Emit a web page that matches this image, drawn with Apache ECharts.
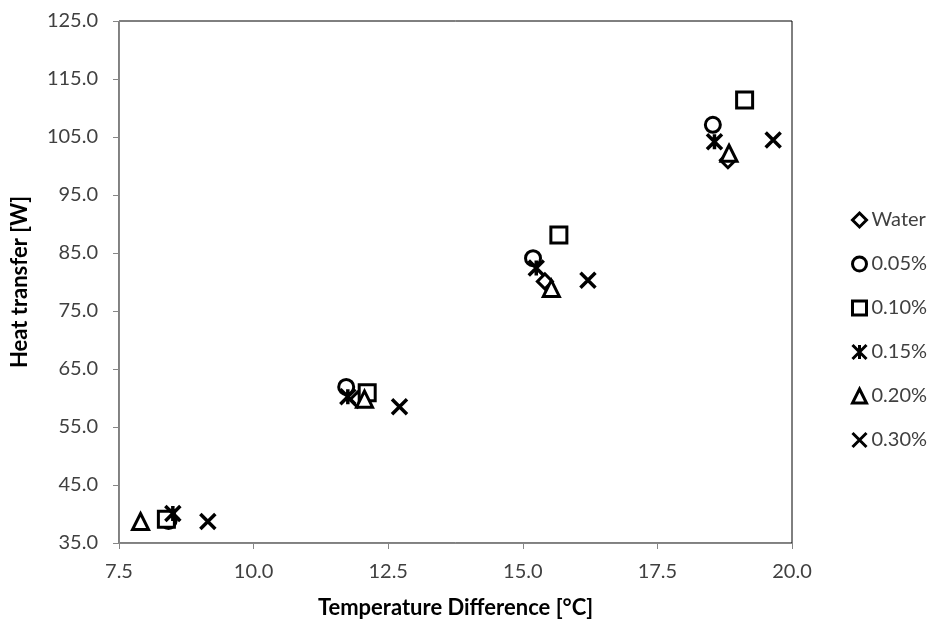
<!DOCTYPE html>
<html>
<head>
<meta charset="utf-8">
<script src="https://cdn.jsdelivr.net/npm/echarts@6/dist/echarts.min.js"></script>
<style>
html,body{margin:0;padding:0;background:#fff;}
#chart{width:935px;height:624px;}
</style>
</head>
<body>
<div id="chart"></div>
<script>
// Series names (legend order)
var seriesNames = ['Water', '0.05%', '0.10%', '0.15%', '0.20%', '0.30%'];

// Temperature difference [°C] values per series
var waterX = [8.45, 11.93, 15.41, 18.81];
var p005X  = [8.42, 11.72, 15.19, 18.53];
var p010X  = [8.38, 12.11, 15.67, 19.12];
var p015X  = [8.50, 11.75, 15.25, 18.56];
var p020X  = [7.90, 12.06, 15.53, 18.83];
var p030X  = [9.15, 12.71, 16.21, 19.65];

// Heat transfer [W] values per series
var waterY = [39.3, 59.7, 80.1, 101.0];
var p005Y  = [38.8, 61.9, 84.1, 107.1];
var p010Y  = [39.1, 60.9, 88.1, 111.4];
var p015Y  = [40.1, 60.2, 82.4, 104.2];
var p020Y  = [38.7, 59.8, 78.9, 102.2];
var p030Y  = [38.7, 58.5, 80.3, 104.5];

var FONT = 'Lato, "Liberation Sans", sans-serif';

function pairs(xs, ys) {
  return xs.map(function (x, i) { return [x, ys[i]]; });
}

var symDiamond = 'path://M5 0 L10 5 L5 10 L0 5 Z';
var symX = 'path://M0 0 L10 10 M10 0 L0 10';
var symStar = 'path://M0 0 L10 10 M10 0 L0 10 M5 0 L5 10';

var specs = [
  {x: waterX, y: waterY, symbol: symDiamond, size: 15, bw: 3},
  {x: p005X,  y: p005Y,  symbol: 'circle',   size: 15, bw: 3},
  {x: p010X,  y: p010Y,  symbol: 'rect',     size: 16, bw: 3},
  {x: p015X,  y: p015Y,  symbol: symStar,    size: 15, bw: 3.5},
  {x: p020X,  y: p020Y,  symbol: 'triangle', size: 16, bw: 3},
  {x: p030X,  y: p030Y,  symbol: symX,       size: 15, bw: 3.5}
];

var series = specs.map(function (s, i) {
  return {
    name: seriesNames[i],
    type: 'scatter',
    data: pairs(s.x, s.y),
    symbol: s.symbol,
    symbolSize: s.size,
    itemStyle: {color: '#fff', borderColor: '#000', borderWidth: s.bw, opacity: 1},
    emphasis: {disabled: true},
    z: 3
  };
});

var chart = echarts.init(document.getElementById('chart'), null, {renderer: 'canvas'});
chart.setOption({
  backgroundColor: '#fff',
  animation: false,
  grid: {
    left: 119, right: 143, top: 21, bottom: 81,
    show: true, borderColor: '#000', borderWidth: 1, backgroundColor: 'transparent'
  },
  legend: {
    orient: 'vertical',
    left: 846,
    top: 203,
    itemWidth: 14,
    itemHeight: 14,
    itemGap: 20,
    itemStyle: {borderWidth: 3},
    textStyle: {fontFamily: FONT, fontSize: 20, color: '#404040', lineHeight: 24},
    data: seriesNames
  },
  xAxis: {
    type: 'value',
    min: 7.5, max: 20, interval: 2.5,
    name: 'Temperature Difference [°C]',
    nameLocation: 'middle',
    nameGap: 54,
    nameTextStyle: {fontFamily: FONT, fontSize: 22, fontWeight: 'bold', color: '#000'},
    axisLine: {show: true, onZero: false, lineStyle: {color: '#868686', width: 1}},
    axisTick: {show: true, length: 6, lineStyle: {color: '#868686'}},
    splitLine: {show: false},
    axisLabel: {
      fontFamily: FONT, fontSize: 20, color: '#404040', margin: 19,
      formatter: function (v) { return v.toFixed(1); }
    }
  },
  yAxis: {
    type: 'value',
    min: 35, max: 125, interval: 10,
    name: 'Heat transfer [W]',
    nameLocation: 'middle',
    nameGap: 88,
    nameRotate: 90,
    nameTextStyle: {fontFamily: FONT, fontSize: 22, fontWeight: 'bold', color: '#000'},
    axisLine: {show: true, onZero: false, lineStyle: {color: '#868686', width: 1}},
    axisTick: {show: true, length: 6, lineStyle: {color: '#868686'}},
    splitLine: {show: false},
    axisLabel: {
      fontFamily: FONT, fontSize: 20, color: '#404040', margin: 21,
      formatter: function (v) { return v.toFixed(1); }
    }
  },
  series: series
});
</script>
</body>
</html>
